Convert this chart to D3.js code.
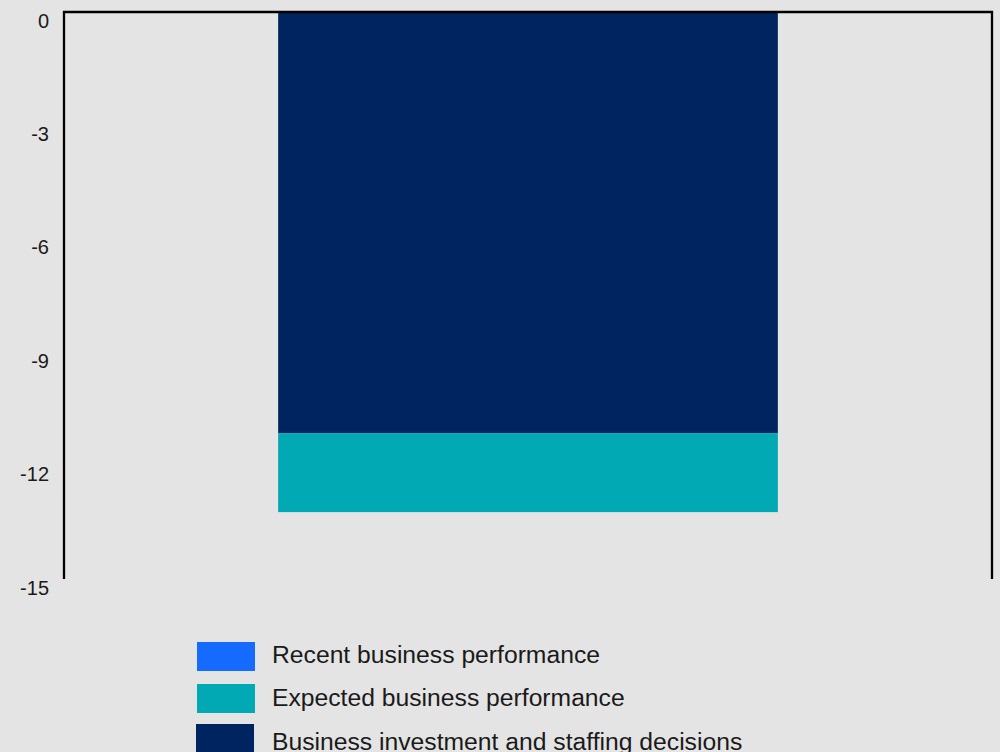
<!DOCTYPE html>
<html>
<head>
<meta charset="utf-8">
<script src="https://cdn.jsdelivr.net/npm/d3@7"></script>
<style>
  html, body { margin: 0; padding: 0; background: #e4e4e4; }
  svg { display: block; }
  text { font-family: "Liberation Sans", Arial, sans-serif; fill: #1a1a1a; }
</style>
</head>
<body>
<svg id="chart" width="1000" height="752"></svg>
<script>
// Data
const categories = ["All firms"];
const seriesNames = ["Recent business performance", "Expected business performance", "Business investment and staffing decisions"];
const recentPerf = [0];
const expectedPerf = [-2.09];
const investStaff = [-11.14];
const yTicks = [0, -3, -6, -9, -12, -15];
const colors = ["#156bff", "#00a9b4", "#00245f"];

(function () {
const svg = d3.select("#chart");
const mLeft = 64, mRight = 992, mTop = 12, mBottom = 579;

const y = d3.scaleLinear().domain([-15, 0]).range([mBottom, mTop]);
const x = d3.scaleBand().domain(categories).range([mLeft, mRight]).paddingInner(0.3).paddingOuter(0.3);

const rows = categories.map((c, i) => ({
  cat: c,
  "Business investment and staffing decisions": investStaff[i],
  "Expected business performance": expectedPerf[i],
  "Recent business performance": recentPerf[i]
}));
const stackOrder = ["Business investment and staffing decisions", "Expected business performance", "Recent business performance"];
const stack = d3.stack().keys(stackOrder).offset(d3.stackOffsetDiverging);
const stacked = stack(rows);
const colorOf = k => colors[seriesNames.indexOf(k)];

svg.append("g").selectAll("g").data(stacked).join("g")
  .attr("fill", d => colorOf(d.key))
  .selectAll("rect").data(d => d).join("rect")
  .attr("x", d => x(d.data.cat))
  .attr("width", x.bandwidth())
  .attr("y", d => y(Math.max(d[0], d[1])))
  .attr("height", d => Math.abs(y(d[0]) - y(d[1])));

const frame = svg.append("g").attr("fill", "none").attr("stroke", "#000").attr("stroke-width", 2.3);
frame.append("path").attr("d", d3.line()([[mLeft, mBottom], [mLeft, y(0)], [mRight, y(0)], [mRight, mBottom]]));

const yAxis = d3.axisLeft(y).tickValues(yTicks).tickSize(0).tickPadding(15).tickFormat(d => String(d));
const ga = svg.append("g").attr("transform", `translate(${mLeft},0)`).call(yAxis);
ga.select(".domain").remove();
ga.selectAll("text")
  .attr("dy", "0.75em")
  .style("font-family", "'Liberation Sans', Arial, sans-serif")
  .style("font-size", "20px")
  .attr("fill", "#1a1a1a");

const swatchY = [642, 684, 724];
const swatchX = [197, 197, 196];
const textBase = [662.5, 706, 750];
const lg = svg.append("g");
const items = lg.selectAll("g").data(seriesNames).join("g");
items.append("rect")
  .attr("x", (d, i) => swatchX[i]).attr("y", (d, i) => swatchY[i])
  .attr("width", 58).attr("height", 29).attr("fill", (d, i) => colors[i]);
items.append("text").attr("x", 272).attr("y", (d, i) => textBase[i])
  .style("font-size", "24.7px").text(d => d);
})();
</script>
</body>
</html>
